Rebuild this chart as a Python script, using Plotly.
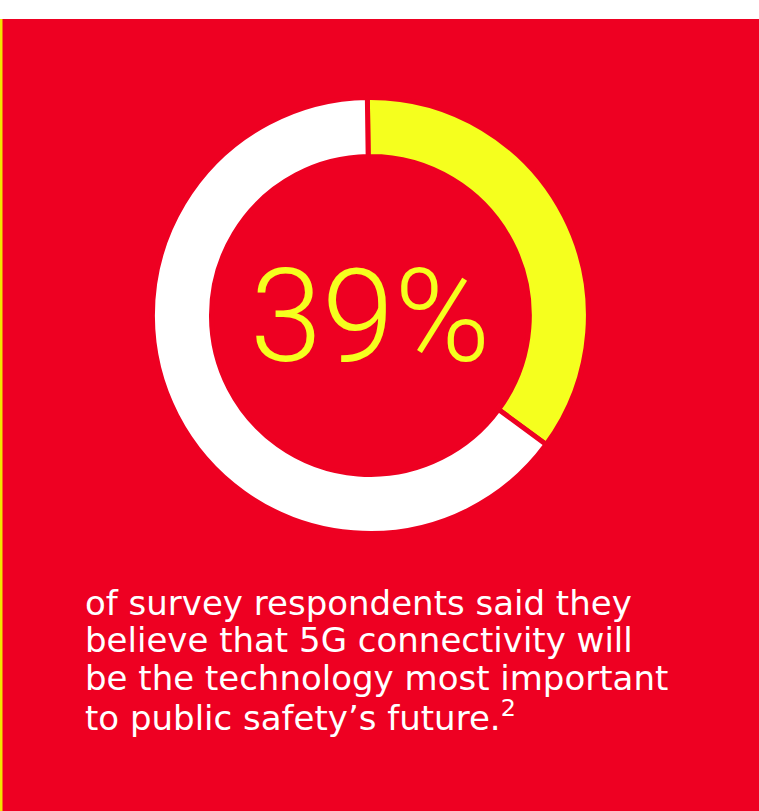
import plotly.graph_objects as go

# Data
segments = ["5G connectivity", "Other"]
shares = [35.3, 64.7]          # visual arc share of the ring
headline = "39%"
caption_lines = [
    "of survey respondents said they",
    "believe that 5G connectivity will",
    "be the technology most important",
    "to public safety’s future.<sup>2</sup>",
]
caption_baselines = [614, 651.7, 689.4, 727]   # px from top

RED = "#EE0022"
YELLOW = "#F5FF1E"
WHITE = "#FFFFFF"

W, H = 759, 811
CAP_SIZE = 34

fig = go.Figure()

fig.add_trace(go.Pie(
    labels=segments,
    values=shares,
    hole=0.729,
    sort=False,
    direction="clockwise",
    rotation=-0.8,
    marker=dict(colors=[YELLOW, WHITE], line=dict(color=RED, width=5)),
    textinfo="none",
    hoverinfo="label+percent",
    showlegend=False,
    domain=dict(x=[152.4 / W, 588.4 / W], y=[277.5 / H, 713.5 / H]),
))

shapes = [
    dict(type="rect", xref="paper", yref="paper", x0=0, x1=1, y0=0, y1=1 - 19 / H,
         fillcolor=RED, line=dict(width=0), layer="below"),
    dict(type="rect", xref="paper", yref="paper", x0=0, x1=2.5 / W, y0=0, y1=1 - 19 / H,
         fillcolor="#F2E600", line=dict(width=0), layer="below"),
]

annotations = [
    dict(text=headline, xref="paper", yref="paper", x=370.4 / W, y=1 - 316 / H,
         xanchor="center", yanchor="middle", showarrow=False,
         font=dict(family="Roboto", size=130, color=YELLOW, weight=300)),
]
for line, base in zip(caption_lines, caption_baselines):
    annotations.append(dict(
        text=line, xref="paper", yref="paper",
        x=83 / W, y=1 - (base - 0.33 * CAP_SIZE) / H,
        xanchor="left", yanchor="middle", align="left", showarrow=False,
        font=dict(family="DejaVu Sans", size=CAP_SIZE, color=WHITE),
    ))

fig.update_layout(
    width=W, height=H,
    margin=dict(l=0, r=0, t=0, b=0),
    paper_bgcolor=WHITE,
    plot_bgcolor=WHITE,
    shapes=shapes,
    annotations=annotations,
)

fig.write_html(
    "out.html",
    config={"displayModeBar": False},
    post_script="document.body.style.margin='0px';document.body.style.overflow='hidden';",
)
